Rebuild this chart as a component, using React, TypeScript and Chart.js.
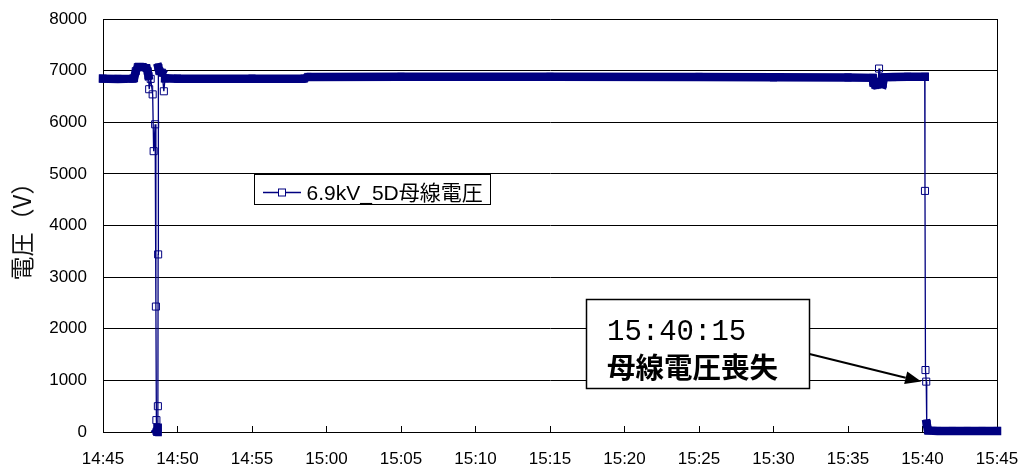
import React, { useEffect, useRef } from 'react';
import { Chart, registerables } from 'chart.js';

Chart.register(...registerables);

const SERIES_LABEL = '6.9kV_5D母線電圧';
const Y_TITLE = '電圧（V）';
const X_TICK_LABELS = ['14:45', '14:50', '14:55', '15:00', '15:05', '15:10', '15:15', '15:20', '15:25', '15:30', '15:35', '15:40', '15:45'];
const X_START = '14:45:00';
const X_END = '15:45:00';
const X_STEP_MIN = 5;
const Y_MIN = 0;
const Y_MAX = 8000;
const Y_STEP = 1000;

const TIMES = [
  '14:45:00', '14:46:00', '14:47:00', '14:47:05', '14:47:12', '14:47:20', '14:47:40', '14:47:55', '14:48:00',
  '14:48:03', '14:48:06', '14:48:12', '14:48:20', '14:48:24', '14:48:30', '14:48:33', '14:48:35', '14:48:36',
  '14:48:38', '14:48:40', '14:48:41', '14:48:42', '14:48:43', '14:48:47', '14:48:58', '14:49:05', '14:49:10',
  '14:50:00', '14:55:00', '14:58:30', '14:58:45', '15:05:00', '15:15:00', '15:25:00', '15:30:00', '15:35:00',
  '15:36:40', '15:36:42', '15:36:50', '15:37:00', '15:37:05', '15:37:08', '15:37:20', '15:37:25', '15:38:00',
  '15:39:00', '15:40:09', '15:40:10', '15:40:12', '15:40:15', '15:40:17', '15:40:22', '15:41:00', '15:42:00',
  '15:43:00', '15:44:00', '15:45:00',
];
const VOLTAGES = [
  6845, 6840, 6845, 6850, 6990, 7070, 7070, 7050, 6990,
  6900, 6640, 6840, 6540, 5440, 5960, 2430, 230, 10,
  0, 80, 500, 3440, 7060, 6990, 6960, 6600, 6850,
  6845, 6845, 6845, 6878, 6880, 6880, 6878, 6870, 6868,
  6860, 6760, 6720, 6730, 7040, 6760, 6740, 6870, 6875,
  6880, 6880, 4670, 1200, 976, 160, 30, 20, 20,
  20, 20, 20,
];

const ANNOTATION_TIME = '15:40:15';
const ANNOTATION_VALUE = 976;
const ANNOTATION_LINES = ['15:40:15', '母線電圧喪失'];

const NAVY = '#000080';
const CJK = "'Noto Sans CJK JP', sans-serif";
const LATIN = "'Liberation Sans', 'Noto Sans CJK JP', sans-serif";

function toSec(t: string): number {
  const [h, m, s] = t.split(':').map(Number);
  return h * 3600 + m * 60 + s;
}
function toMin(t: string): number {
  return (toSec(t) - toSec(X_START)) / 60;
}

const overlayPlugin = {
  id: 'overlay',
  afterDraw(chart: any) {
    const ctx: CanvasRenderingContext2D = chart.ctx;
    ctx.save();

    // Legend box
    const lx = 254.5, ly = 174.5, lw = 236, lh = 30;
    ctx.fillStyle = '#fff';
    ctx.fillRect(lx, ly, lw, lh);
    ctx.strokeStyle = '#000';
    ctx.lineWidth = 1;
    ctx.strokeRect(lx, ly, lw, lh);
    const sy = 192.5;
    ctx.strokeStyle = NAVY;
    ctx.lineWidth = 1.3;
    ctx.beginPath();
    ctx.moveTo(263, sy);
    ctx.lineTo(301, sy);
    ctx.stroke();
    ctx.fillStyle = '#fff';
    ctx.fillRect(278.5, sy - 3.5, 7, 7);
    ctx.lineWidth = 1;
    ctx.strokeRect(278.5, sy - 3.5, 7, 7);
    ctx.fillStyle = '#000';
    ctx.font = `21px ${LATIN}`;
    ctx.textBaseline = 'alphabetic';
    ctx.textAlign = 'left';
    ctx.fillText(chart.data.datasets[0].label, 306.5, 200);

    // Annotation callout
    const bx = 586.5, by = 299.5, bw = 223, bh = 89;
    ctx.fillStyle = '#fff';
    ctx.fillRect(bx, by, bw, bh);
    ctx.strokeStyle = '#000';
    ctx.lineWidth = 1.5;
    ctx.strokeRect(bx, by, bw, bh);
    ctx.fillStyle = '#000';
    ctx.font = `29px 'Liberation Mono', 'DejaVu Sans Mono', monospace`;
    ctx.fillText(ANNOTATION_LINES[0], 607, 339.5);
    ctx.font = `bold 28.5px ${CJK}`;
    ctx.fillText(ANNOTATION_LINES[1], 607, 377.5);

    // Arrow to data point
    const xs = chart.scales.x, ys = chart.scales.y;
    const px = xs.getPixelForValue(toMin(ANNOTATION_TIME));
    const py = ys.getPixelForValue(ANNOTATION_VALUE);
    const sx0 = bx + bw, sy0 = 354;
    const tx = px - 5, ty = py;
    const ang = Math.atan2(ty - sy0, tx - sx0);
    const hl = 16, hw = 6.5;
    const bxh = tx - hl * Math.cos(ang), byh = ty - hl * Math.sin(ang);
    ctx.strokeStyle = '#000';
    ctx.lineWidth = 2;
    ctx.beginPath();
    ctx.moveTo(sx0, sy0);
    ctx.lineTo(bxh, byh);
    ctx.stroke();
    ctx.beginPath();
    ctx.moveTo(tx, ty);
    ctx.lineTo(bxh + hw * Math.sin(ang), byh - hw * Math.cos(ang));
    ctx.lineTo(bxh - hw * Math.sin(ang), byh + hw * Math.cos(ang));
    ctx.closePath();
    ctx.fillStyle = '#000';
    ctx.fill();

    ctx.restore();
  },
};

export default function App() {
  const ref = useRef<HTMLCanvasElement | null>(null);

  useEffect(() => {
    if (!ref.current) return;
    const points = TIMES.map((t, i) => ({ x: toMin(t), y: VOLTAGES[i] }));
    const xMax = toMin(X_END);
    const chart = new Chart(ref.current, {
      type: 'line',
      data: {
        datasets: [
          {
            label: SERIES_LABEL,
            data: points,
            borderColor: NAVY,
            borderWidth: 1.3,
            borderCapStyle: 'square',
            tension: 0,
            clip: false as any,
            pointStyle: 'rect',
            pointRadius: 5,
            pointBorderWidth: 1,
            pointBorderColor: NAVY,
            pointBackgroundColor: 'rgba(255,255,255,0)',
            segment: {
              borderWidth: (c: any) => (Math.abs(c.p1.parsed.y - c.p0.parsed.y) < 150 ? 8.5 : 1.3),
            },
          } as any,
        ],
      },
      options: {
        responsive: false,
        animation: false,
        events: [],
        layout: { padding: { left: 0, right: 24, top: 19, bottom: 0 } },
        plugins: {
          legend: { display: false },
          tooltip: { enabled: false },
        },
        scales: {
          x: {
            type: 'linear',
            min: 0,
            max: xMax,
            afterBuildTicks: (s: any) => {
              s.ticks = X_TICK_LABELS.map((_, i) => ({ value: i * X_STEP_MIN }));
            },
            afterFit: (s: any) => {
              s.height = 36;
              s.paddingLeft = 0;
              s.paddingRight = 0;
            },
            ticks: {
              callback: (_v: any, i: number) => X_TICK_LABELS[i],
              color: '#000',
              font: { size: 17, family: LATIN },
              padding: 23,
              maxRotation: 0,
              autoSkip: false,
            },
            grid: {
              drawOnChartArea: true,
              color: (c: any) => (c.tick && c.tick.value === xMax ? '#000' : 'rgba(0,0,0,0)'),
              tickColor: '#000',
              tickLength: -6,
              lineWidth: 1,
            },
            border: { color: '#000', width: 1 },
          },
          y: {
            type: 'linear',
            min: Y_MIN,
            max: Y_MAX,
            afterFit: (s: any) => {
              s.width = 103;
              s.paddingTop = 0;
              s.paddingBottom = 0;
            },
            ticks: {
              stepSize: Y_STEP,
              callback: (v: any) => String(v),
              color: '#000',
              font: { size: 17, family: LATIN },
              padding: 16,
            },
            grid: {
              color: '#000',
              lineWidth: 1,
              drawTicks: false,
            },
            border: { color: '#000', width: 1 },
            title: {
              display: true,
              text: Y_TITLE,
              color: '#111',
              font: { size: 24, family: CJK },
              padding: { top: 7.5, bottom: 0 },
            },
          },
        },
      },
      plugins: [overlayPlugin],
    });
    return () => chart.destroy();
  }, []);

  return (
    <div style={{ position: 'fixed', left: 0, top: 0, width: 1021, height: 468, background: '#fff' }}>
      <canvas ref={ref} width={1021} height={468} style={{ display: 'block' }} />
    </div>
  );
}
